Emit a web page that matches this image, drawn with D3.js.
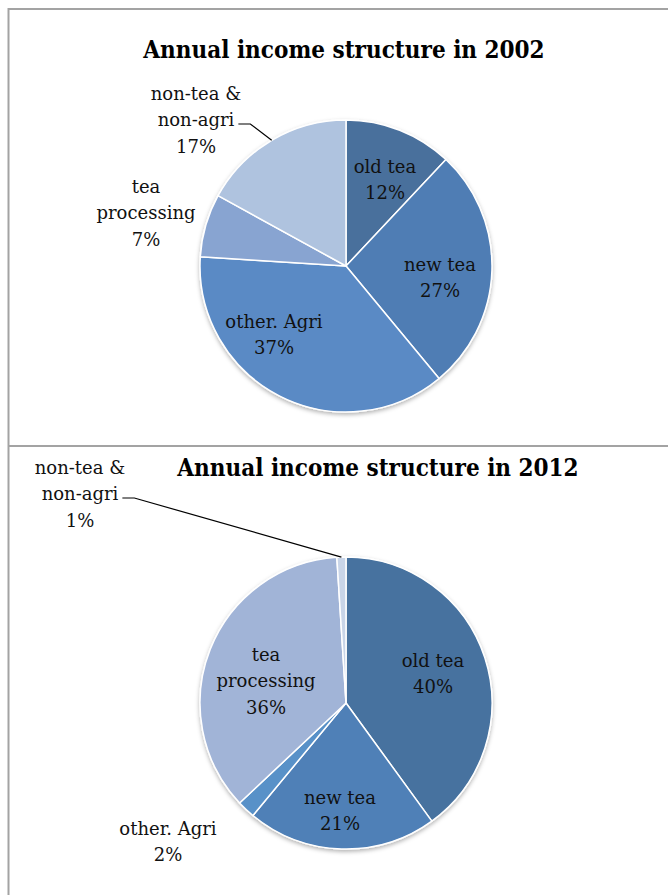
<!DOCTYPE html>
<html>
<head>
<meta charset="utf-8">
<script src="https://cdn.jsdelivr.net/npm/d3@7"></script>
<style>
  html, body { margin: 0; padding: 0; background: #fff; }
  svg { display: block; }
</style>
</head>
<body>
<svg width="668" height="895"></svg>
<script>
const categories = ['old tea', 'new tea', 'other. Agri', 'tea processing', 'non-tea & non-agri']
const labelLines = [['old tea'], ['new tea'], ['other. Agri'], ['tea', 'processing'], ['non-tea &', 'non-agri']]
const values2002 = [12, 27, 37, 7, 17]
const values2012 = [40, 21, 2, 36, 1]
const titles = ['Annual income structure in 2002', 'Annual income structure in 2012']

const colors2002 = ['#4a6f9c', '#4f7db4', '#5a8ac5', '#88a4d1', '#afc3df']
const colors2012 = ['#46729f', '#4f80b7', '#5991c8', '#a1b4d7', '#c9d5e8']

// label offsets from the pie centre (layout only)
const layout2002 = {
  center: [346, 266], title: [344, 58],
  labels: [[39, -86], [94, 12], [-72, 69], [-200, -53], [-150, -146]],
  leader: [false, false, false, false, true]
}
const layout2012 = {
  center: [346, 703], title: [378, 476],
  labels: [[87, -29], [-6, 108], [-178, 139], [-80, -22], [-266, -209]],
  leader: [false, false, false, false, true]
}

const radius = 146
const lineH = 26.5
const labelFont = '"DejaVu Serif", serif'

const svg = d3.select('svg')

const defs = svg.append('defs')
defs.append('filter')
  .attr('id', 'shadow')
  .attr('x', '-10%').attr('y', '-10%').attr('width', '120%').attr('height', '120%')
  .append('feDropShadow')
  .attr('dx', 0).attr('dy', 2).attr('stdDeviation', 2)
  .attr('flood-color', '#000').attr('flood-opacity', 0.3)

// frame
svg.append('rect')
  .attr('x', 8.5).attr('y', 9).attr('width', 700).attr('height', 900)
  .attr('fill', 'none').attr('stroke', '#a3a3a3').attr('stroke-width', 2)
svg.append('line')
  .attr('x1', 8).attr('x2', 668).attr('y1', 446).attr('y2', 446)
  .attr('stroke', '#a3a3a3').attr('stroke-width', 2)

function drawPie(values, colors, title, lay) {
  const [cx, cy] = lay.center
  const g = svg.append('g')

  g.append('text')
    .attr('x', lay.title[0]).attr('y', lay.title[1])
    .attr('text-anchor', 'middle')
    .style('font-family', '"DejaVu Serif Condensed", "DejaVu Serif", serif')
    .style('font-weight', 'bold')
    .style('font-size', '24px')
    .attr('fill', '#000')
    .text(title)

  const pie = d3.pie().sort(null).value(d => d)
  const arcs = pie(values)
  const arc = d3.arc().innerRadius(0).outerRadius(radius)

  const pg = g.append('g').attr('transform', `translate(${cx},${cy})`)

  pg.append('g').attr('filter', 'url(#shadow)')
    .selectAll('path')
    .data(arcs)
    .join('path')
    .attr('d', arc)
    .attr('fill', (d, i) => colors[i])
    .attr('stroke', '#fff')
    .attr('stroke-width', 1.5)
    .attr('stroke-linejoin', 'round')

  arcs.forEach((d, i) => {
    const [lx, ly] = lay.labels[i]
    const lines = labelLines[i].concat([values[i] + '%'])
    const top = ly - (lines.length - 1) * lineH / 2
    const t = pg.append('text')
      .attr('text-anchor', 'middle')
      .style('font-family', labelFont)
      .style('font-size', '18px')
      .attr('fill', '#111')
    lines.forEach((s, k) => {
      t.append('tspan')
        .attr('x', lx)
        .attr('y', top + k * lineH + 6)
        .text(s)
    })

    if (lay.leader[i]) {
      const mid = (d.startAngle + d.endAngle) / 2
      const ex = radius * Math.sin(mid)
      const ey = -radius * Math.cos(mid)
      const midLineW = t.select('tspan:nth-child(2)').node().getComputedTextLength()
      const sx = lx + midLineW / 2 + 4
      const sy = ly + 4
      pg.append('path')
        .attr('d', d3.line()([[sx, sy], [sx + 12, sy], [ex, ey]]))
        .attr('fill', 'none')
        .attr('stroke', '#000')
        .attr('stroke-width', 1.2)
    }
  })
}

drawPie(values2002, colors2002, titles[0], layout2002)
drawPie(values2012, colors2012, titles[1], layout2012)
</script>
</body>
</html>
